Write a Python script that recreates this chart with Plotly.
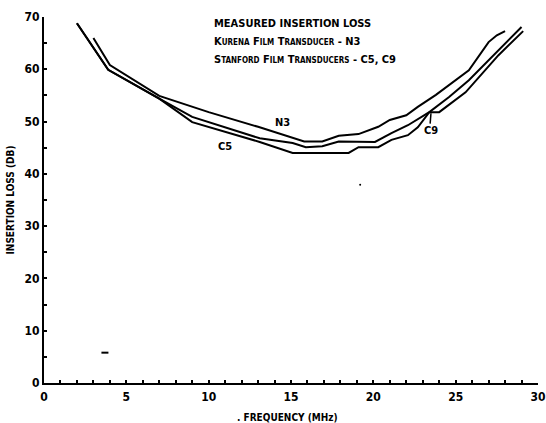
import plotly.graph_objects as go

# ---- data ----
n3_freq = [3, 4, 7, 10, 13, 15.8, 16.9, 17.9, 19.1, 20.3, 21.0, 22.0, 22.7, 23.8, 25.8, 27.0, 27.5, 28.0]
n3_loss = [66.0, 60.8, 54.9, 51.8, 49.0, 46.2, 46.2, 47.3, 47.6, 49.0, 50.3, 51.2, 52.8, 55.1, 59.8, 65.2, 66.5, 67.3]

c9_freq = [2, 3.9, 7, 9, 13.1, 15.1, 15.9, 16.9, 17.9, 18.9, 20.1, 21.1, 22.1, 23.4, 24.6, 25.8, 27.6, 29.0]
c9_loss = [68.8, 59.9, 54.4, 50.9, 46.8, 45.9, 45.1, 45.3, 46.2, 46.1, 46.1, 47.8, 49.3, 51.8, 54.7, 57.9, 63.7, 68.1]

c5_freq = [2, 3.9, 7, 9, 13.1, 15.1, 18.5, 19.1, 20.3, 21.1, 22.1, 22.7, 23.4, 24.0, 25.6, 27.6, 29.1]
c5_loss = [68.8, 59.9, 54.4, 49.9, 46.1, 44.0, 44.0, 45.1, 45.1, 46.5, 47.4, 48.9, 51.8, 51.8, 55.6, 62.7, 67.3]

x_ticks = [0, 5, 10, 15, 20, 25, 30]
y_ticks = [0, 10, 20, 30, 40, 50, 60, 70]

FONT = "DejaVu Sans Condensed, Liberation Sans Narrow, sans-serif"

fig = go.Figure()
for fx, ly, name in [(n3_freq, n3_loss, "N3"), (c9_freq, c9_loss, "C9"), (c5_freq, c5_loss, "C5")]:
    fig.add_trace(go.Scatter(x=fx, y=ly, mode="lines", name=name,
                             line=dict(color="black", width=2), showlegend=False,
                             hoverinfo="skip"))

# scanning specks
fig.add_trace(go.Scatter(x=[3.7], y=[5.8], mode="markers", showlegend=False,
                         marker=dict(symbol="line-ew", size=5, line=dict(color="black", width=2))))
fig.add_trace(go.Scatter(x=[19.2], y=[37.9], mode="markers", showlegend=False,
                         marker=dict(symbol="circle", size=2, color="black")))

def sc(word, small=8):
    return word[0] + "<span style='font-size:%dpx'>%s</span>" % (small, word[1:])

line1 = "MEASURED INSERTION LOSS"
line2 = " ".join(sc(w) for w in ["KURENA", "FILM", "TRANSDUCER"]) + " - N3"
line3 = " ".join(sc(w) for w in ["STANFORD", "FILM", "TRANSDUCERS"]) + " - C5, C9"

ann_font = dict(family=FONT, size=11, color="black")
for txt, yv in [(line1, 68.8), (line2, 65.3), (line3, 61.9)]:
    fig.add_annotation(x=10.2, y=yv, text="<b>%s</b>" % txt, showarrow=False,
                       xanchor="left", yanchor="middle", font=ann_font)

fig.add_annotation(x=14.5, y=49.9, text="<b>N3</b>", showarrow=False, font=ann_font)
fig.add_annotation(x=11.0, y=45.3, text="<b>C5</b>", showarrow=False, font=ann_font)
fig.add_annotation(x=23.5, y=48.3, text="<b>C9</b>", showarrow=False, font=ann_font)
fig.add_shape(type="line", x0=23.45, x1=23.5, y0=49.6, y1=51.6,
              line=dict(color="black", width=1.5))

fig.add_annotation(xref="paper", yref="paper", x=(287 - 44) / 494, y=-(417 - 383) / 366,
                   yanchor="middle", text="<b>. FREQUENCY (MHz)</b>", showarrow=False,
                   font=dict(family=FONT, size=10, color="black"))

fig.update_xaxes(range=[0, 30], tickvals=x_ticks, ticktext=["<b>%d</b>" % v for v in x_ticks],
                 showline=True, linecolor="black", linewidth=2, showgrid=False, zeroline=False,
                 ticks="inside", ticklen=3, tickwidth=2, tickcolor="black",
                 minor=dict(dtick=1, ticks="inside", ticklen=3, tickwidth=2, tickcolor="black"),
                 tickfont=dict(family=FONT, size=12, color="black"), ticklabelstandoff=2,
                 ticklabeloverflow="allow", automargin=False)
fig.update_yaxes(range=[0, 70], tickvals=y_ticks, ticktext=["<b>%d</b>" % v for v in y_ticks],
                 showline=True, linecolor="black", linewidth=2, showgrid=False, zeroline=False,
                 ticks="inside", ticklen=3, tickwidth=2, tickcolor="black",
                 minor=dict(dtick=5, ticks="inside", ticklen=3, tickwidth=1.5, tickcolor="black"),
                 tickfont=dict(family=FONT, size=12, color="black"),
                 title=dict(text="<b>INSERTION LOSS (DB)</b>", standoff=8,
                            font=dict(family=FONT, size=10, color="black")))

fig.update_layout(width=546, height=423, margin=dict(l=44, r=8, t=17, b=40),
                  plot_bgcolor="white", paper_bgcolor="white",
                  font=dict(family=FONT, color="black"))

fig.write_html("out.html")
